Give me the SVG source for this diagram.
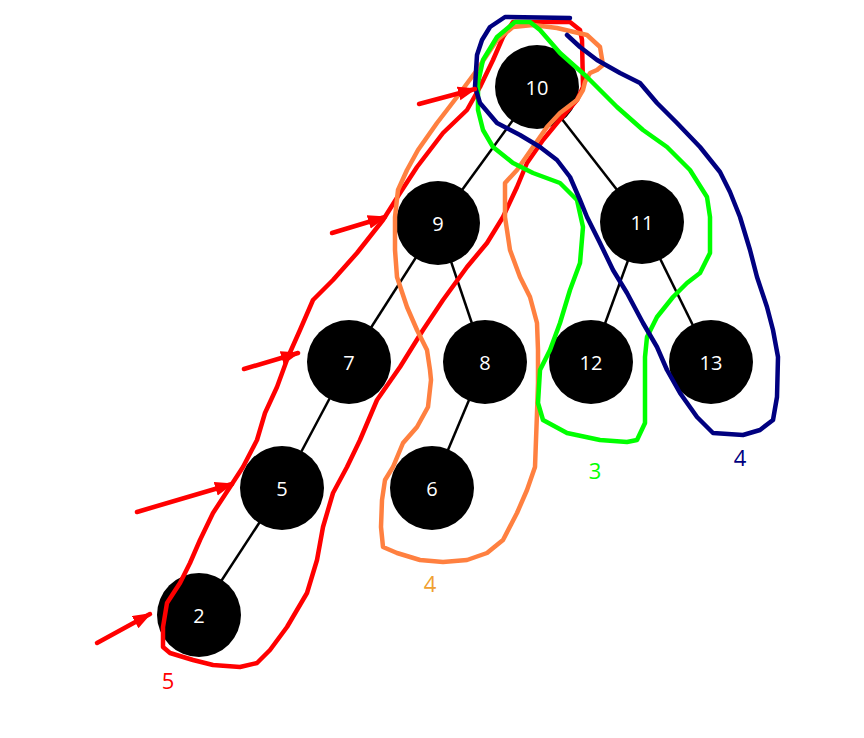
<svg xmlns="http://www.w3.org/2000/svg" width="864" height="738" viewBox="0 0 864 738">
<style>
.edge{stroke:#000;stroke-width:2.5;fill:none}
.node circle{fill:#000}
.node text{fill:#fff;font-family:"Open Sans","Noto Sans",sans-serif;font-size:20px;text-anchor:middle}
.loop{fill:none;stroke-width:4.5;stroke-linejoin:round;stroke-linecap:round}
.lbl{font-family:"Open Sans","Noto Sans",sans-serif;font-size:22px;text-anchor:middle}
.arrow{stroke:#ff0000;stroke-width:4.5;stroke-linecap:round;fill:none}
</style>
<defs>
<marker id="ah" markerUnits="userSpaceOnUse" markerWidth="20" markerHeight="16" refX="17" refY="7" orient="auto">
<path d="M0,0 L19,7 L0,14 z" fill="#ff0000"/>
</marker>
</defs>
<g id="connectors">
<line class="edge" x1="537" y1="87" x2="438" y2="223"/>
<line class="edge" x1="537" y1="87" x2="642" y2="222"/>
<line class="edge" x1="438" y1="223" x2="349" y2="362"/>
<line class="edge" x1="438" y1="223" x2="485" y2="362"/>
<line class="edge" x1="642" y1="222" x2="591" y2="362"/>
<line class="edge" x1="642" y1="222" x2="711" y2="362"/>
<line class="edge" x1="349" y1="362" x2="282" y2="488"/>
<line class="edge" x1="485" y1="362" x2="432" y2="488"/>
<line class="edge" x1="282" y1="488" x2="199" y2="615"/>
</g>
<g id="node-10" class="node"><circle cx="537" cy="87" r="42"/><text x="537" y="95">10</text></g>
<g id="node-9" class="node"><circle cx="438" cy="223" r="42"/><text x="438" y="231">9</text></g>
<g id="node-11" class="node"><circle cx="642" cy="222" r="42"/><text x="642" y="230">11</text></g>
<g id="node-7" class="node"><circle cx="349" cy="362" r="42"/><text x="349" y="370">7</text></g>
<g id="node-8" class="node"><circle cx="485" cy="362" r="42"/><text x="485" y="370">8</text></g>
<g id="node-12" class="node"><circle cx="591" cy="362" r="42"/><text x="591" y="370">12</text></g>
<g id="node-13" class="node"><circle cx="711" cy="362" r="42"/><text x="711" y="370">13</text></g>
<g id="node-5" class="node"><circle cx="282" cy="488" r="42"/><text x="282" y="496">5</text></g>
<g id="node-6" class="node"><circle cx="432" cy="488" r="42"/><text x="432" y="496">6</text></g>
<g id="node-2" class="node"><circle cx="199" cy="615" r="42"/><text x="199" y="623">2</text></g>
<g id="loops">
<polygon class="loop" stroke="#ff0000" points="513,22 570,22 580,30 582,40 583,87 577,100 557,123 543,140 527,163 517,187 503,217 487,243 467,267 443,300 423,330 400,367 377,400 360,440 347,467 333,493 323,527 317,560 307,593 287,627 270,650 257,663 240,667 213,665 193,660 170,653 163,647 163,627 167,603 180,583 190,563 200,540 213,513 230,487 243,467 257,440 265,413 277,387 288,357 300,330 313,300 333,280 357,253 383,220 400,193 417,167 430,150 443,133 467,110 480,87 493,60 503,37"/>
<polygon class="loop" stroke="#ff8040" points="513,27 533,25 557,28 587,35 600,47 603,65 597,70 590,73 585,82 583,90 577,100 560,113 547,127 533,147 517,170 505,183 505,217 510,250 520,277 530,297 537,323 538,350 538,383 537,413 536,440 535,467 527,490 517,513 503,540 487,553 467,560 443,562 420,560 397,553 383,547 381,527 382,500 385,480 393,467 403,443 417,427 428,407 431,380 430,370 427,350 417,330 407,307 397,277 395,250 395,217 398,190 407,170 418,150 437,123 457,97 477,70 497,40"/>
<polygon class="loop" stroke="#00ff00" points="515,22 530,22 540,30 560,53 587,77 617,107 643,130 667,147 690,170 707,197 710,217 710,253 700,273 687,283 673,297 657,317 647,337 645,357 645,423 637,440 627,442 600,440 567,433 543,420 538,403 540,370 550,350 560,323 570,290 580,263 583,227 577,200 560,183 533,173 513,163 493,147 483,130 478,110 478,83 483,60 497,37"/>
<polyline class="loop" stroke="#000080" points="570,18 505,17 490,27 482,40 477,55 475,87 480,103 497,123 520,135 540,147 557,160 570,177 580,200 587,217 600,243 613,270 627,293 643,323 657,347 667,370 680,393 697,417 713,433 743,435 760,430 773,420 777,397 778,357 773,330 767,307 757,277 750,250 740,217 730,192 720,172 700,147 677,123 657,103 640,83 620,73 597,60 580,47 567,35"/>
</g>
<g id="arrows">
<line class="arrow" x1="419" y1="104" x2="475" y2="89" marker-end="url(#ah)"/>
<line class="arrow" x1="332" y1="233" x2="385" y2="217" marker-end="url(#ah)"/>
<line class="arrow" x1="244" y1="369" x2="298" y2="353" marker-end="url(#ah)"/>
<line class="arrow" x1="137" y1="512" x2="232" y2="484" marker-end="url(#ah)"/>
<line class="arrow" x1="97" y1="643" x2="150" y2="614" marker-end="url(#ah)"/>
</g>
<g id="labels">
<text class="lbl" x="168" y="689" fill="#ff0000">5</text>
<text class="lbl" x="430" y="592" fill="#f0a030">4</text>
<text class="lbl" x="595" y="479" fill="#00ff00">3</text>
<text class="lbl" x="740" y="466" fill="#000080">4</text>
</g>
</svg>
